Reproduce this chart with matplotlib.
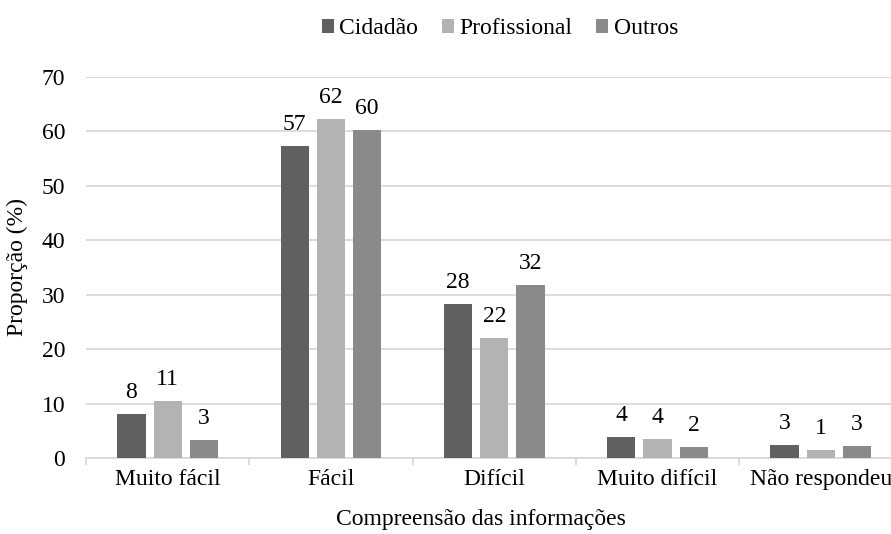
import matplotlib
matplotlib.use("Agg")
import matplotlib.pyplot as plt
import numpy as np

categories = ["Muito fácil", "Fácil", "Difícil", "Muito difícil", "Não respondeu"]
series_names = ["Cidadão", "Profissional", "Outros"]
cidadao = [8.0, 57.2, 28.3, 3.9, 2.3]
profissional = [10.5, 62.2, 22.0, 3.5, 1.5]
outros = [3.3, 60.3, 31.8, 2.1, 2.2]
cidadao_labels = ["8", "57", "28", "4", "3"]
profissional_labels = ["11", "62", "22", "4", "1"]
outros_labels = ["3", "60", "32", "2", "3"]
yticks = [0, 10, 20, 30, 40, 50, 60, 70]

colors = ["#606060", "#b3b3b3", "#8a8a8a"]

plt.rcParams['font.family'] = ['Liberation Serif', 'DejaVu Serif']
FS = 17

W, H = 891, 534
fig = plt.figure(figsize=(W / 100, H / 100), dpi=100)
left_px, right_px = 86, 902.5
bot_px, top_px = 458, 76.7
ax = fig.add_axes([left_px / W, (H - bot_px) / H, (right_px - left_px) / W, (bot_px - top_px) / H])

x = np.arange(len(categories))
bw = 0.173
step = 0.222
data = [cidadao, profissional, outros]
labels = [cidadao_labels, profissional_labels, outros_labels]
for i, (vals, labs, name, c) in enumerate(zip(data, labels, series_names, colors)):
    xs = x + (i - 1) * step
    ax.bar(xs, vals, width=bw, color=c, label=name, zorder=3)
    for xi, v, lab in zip(xs, vals, labs):
        ax.annotate(lab, (xi, v), xytext=(0, 11.5), textcoords='offset points',
                    ha='center', va='baseline', fontsize=FS, color='#000000')

ax.set_xlim(-0.5, len(categories) - 0.5)
ax.set_ylim(0, 70)
ax.set_yticks(yticks)
ax.set_yticklabels([str(t) for t in yticks], fontsize=FS)
ax.yaxis.grid(True, color='#d9d9d9', linewidth=1.3, zorder=0)
ax.set_axisbelow(True)
ax.tick_params(axis='y', length=0, pad=15)

ax.set_xticks(x)
ax.set_xticklabels(categories, fontsize=FS)
ax.set_xticks(np.arange(len(categories) + 1) - 0.5, minor=True)
ax.tick_params(axis='x', which='major', length=0, pad=8)
ax.tick_params(axis='x', which='minor', length=5, width=1.3, color='#d9d9d9')

for s in ['top', 'right', 'left']:
    ax.spines[s].set_visible(False)
ax.spines['bottom'].set_color('#d9d9d9')
ax.spines['bottom'].set_linewidth(1.3)

ax.set_ylabel("Proporção (%)", fontsize=FS, labelpad=10)
ax.set_xlabel("Compreensão das informações", fontsize=FS, labelpad=8)
ax.xaxis.set_label_coords((481 - left_px) / (right_px - left_px), -0.135)

fig.legend(loc='center', bbox_to_anchor=(500 / W, 1 - 29 / H), ncol=3, frameon=False,
           fontsize=FS, handlelength=0.5, handleheight=0.5, handletextpad=0.25,
           columnspacing=1.0, borderaxespad=0)

fig.savefig("out.png", dpi=100)
